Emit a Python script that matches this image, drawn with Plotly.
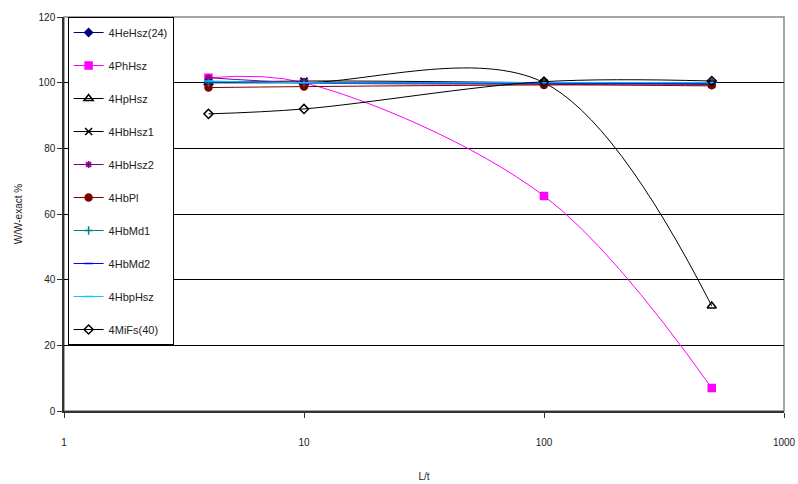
import plotly.graph_objects as go

x_lt = [4, 10, 100, 500]

names = ["4HeHsz(24)", "4PhHsz", "4HpHsz", "4HbHsz1", "4HbHsz2",
         "4HbPl", "4HbMd1", "4HbMd2", "4HbpHsz", "4MiFs(40)"]

he_hsz24 = [100, 100, 100, 100]
ph_hsz = [101.5, 100, 65.5, 7]
hp_hsz = [100, 100, 100, 32]
hb_hsz1 = [100, 100.5, 100, 99.5]
hb_hsz2 = [101.5, 100, 99.5, 99]
hb_pl = [98.5, 98.8, 99.3, 99.3]
hb_md1 = [100, 100, 100, 100]
hb_md2 = [100.3, 100, 99.8, 99.8]
hbp_hsz = [100.5, 100, 100, 100]
mi_fs40 = [90.5, 92, 100.3, 100.5]

series = [he_hsz24, ph_hsz, hp_hsz, hb_hsz1, hb_hsz2,
          hb_pl, hb_md1, hb_md2, hbp_hsz, mi_fs40]

styles = [
    dict(color="#000080", symbol="diamond", size=6, fill="#000080"),
    dict(color="#FF00FF", symbol="square", size=7, fill="#FF00FF"),
    dict(color="#000000", symbol="triangle-up-open", size=8, fill="#000000"),
    dict(color="#000000", symbol="x-thin", size=7, fill="#000000"),
    dict(color="#800080", symbol="asterisk", size=6, fill="#800080"),
    dict(color="#800000", symbol="circle", size=7, fill="#800000"),
    dict(color="#008080", symbol="cross-thin", size=6, fill="#008080"),
    dict(color="#0000FF", symbol="line-ew", size=6, fill="#0000FF"),
    dict(color="#00CCFF", symbol="line-ew", size=7, fill="#00CCFF"),
    dict(color="#000000", symbol="diamond-open", size=7, fill="#000000"),
]

fig = go.Figure()
for i, (nm, ys, st) in enumerate(zip(names, series, styles)):
    fig.add_trace(go.Scatter(
        x=x_lt, y=ys, name=nm, mode="lines+markers",
        legendgroup=f"g{i}",
        line=dict(color=st["color"], width=1, shape="spline", smoothing=1),
        marker=dict(symbol=st["symbol"], size=st["size"], color=st["fill"],
                    line=dict(color=st["color"], width=1.5)),
    ))

font_family = "Liberation Sans, Arial, sans-serif"

fig.update_layout(
    width=798, height=484,
    margin=dict(l=64, r=14, t=17, b=73, autoexpand=False),
    paper_bgcolor="white", plot_bgcolor="white",
    font=dict(family=font_family, size=10, color="#222222"),
    showlegend=True,
    legend=dict(
        x=0.005, y=1, xanchor="left", yanchor="top",
        bgcolor="white", bordercolor="#000000", borderwidth=1,
        font=dict(size=11, color="#222222"),
        traceorder="grouped", tracegroupgap=14,
        itemwidth=30, entrywidth=110,
    ),
    xaxis=dict(
        type="log", range=[0, 3], automargin=False,
        tickvals=[1, 10, 100, 1000], ticktext=["1", "10", "100", "1000"],
        ticks="outside", ticklen=5, tickcolor="#333333",
        showline=True, linecolor="#333333", linewidth=1.5,
        showgrid=False, zeroline=False,
        ticklabelstandoff=16,
        title=dict(text="L/t", standoff=26, font=dict(size=10)),
    ),
    yaxis=dict(
        range=[0, 120], tickvals=[0, 20, 40, 60, 80, 100, 120],
        automargin=False,
        ticks="outside", ticklen=5, tickcolor="#333333",
        showline=True, linecolor="#333333", linewidth=1.5,
        showgrid=True, gridcolor="#000000", gridwidth=1,
        zeroline=False,
        title=dict(text="W/W-exact %", standoff=14, font=dict(size=10)),
    ),
)

fig.add_shape(type="rect", xref="x domain", yref="y domain",
              x0=0, x1=1, y0=0, y1=1,
              line=dict(color="#888888", width=1.5), layer="below")

fig.write_html("out.html",
               config={"displayModeBar": False},
               post_script="document.body.style.margin='0';"
                           "document.body.style.overflow='hidden';")
